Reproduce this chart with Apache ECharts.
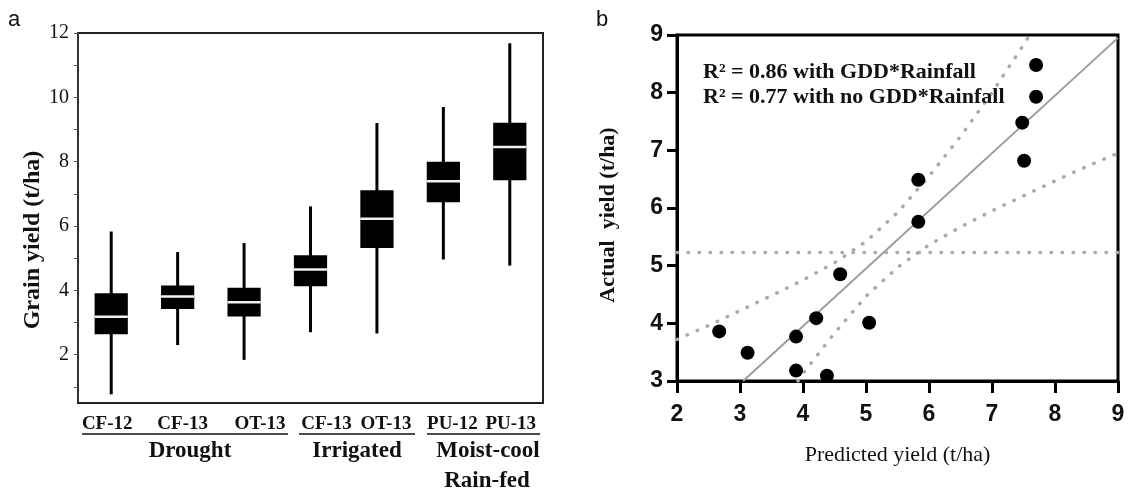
<!DOCTYPE html>
<html><head><meta charset="utf-8">
<script src="https://cdn.jsdelivr.net/npm/echarts@6/dist/echarts.min.js"></script>
<style>html,body{margin:0;padding:0;background:#fff}#c{width:1132px;height:494px}</style>
</head><body><div id="c"></div>
<script>
// ---------- Panel a data ----------
const categories = ['CF-12', 'CF-13', 'OT-13', 'CF-13', 'OT-13', 'PU-12', 'PU-13'];
const groupLabels = ['Drought', 'Irrigated', 'Moist-cool', 'Rain-fed'];
const whiskerLow  = [0.77, 2.30, 1.84, 2.70, 2.66, 4.96, 4.77];
const q1          = [2.64, 3.42, 3.19, 4.13, 5.32, 6.74, 7.42];
const median      = [3.18, 3.81, 3.63, 4.65, 6.23, 7.39, 8.46];
const q3          = [3.91, 4.15, 4.08, 5.09, 7.11, 8.00, 9.21];
const whiskerHigh = [5.83, 5.19, 5.47, 6.61, 9.20, 9.70, 11.68];
const leftTickValues  = [1, 2, 3, 4, 5, 6, 7, 8, 9, 10, 11, 12];
const leftLabelValues = [2, 4, 6, 8, 10, 12];

// ---------- Panel b data ----------
const predicted = [7.70, 7.70, 7.48, 7.51, 5.83, 5.83, 4.59, 4.21, 5.05, 2.67, 3.12, 3.89, 3.89, 4.38];
const actual    = [8.48, 7.93, 7.48, 6.82, 6.49, 5.76, 4.85, 4.09, 4.01, 3.86, 3.49, 3.77, 3.18, 3.09];
const fitX = [3.05, 9.0];
const fitY = [3.0, 8.95];
const upperX = [2.0, 2.5, 3.0, 3.5, 4.0, 4.5, 5.0, 5.5, 6.0, 6.5, 7.0, 7.5, 7.6];
const upperY = [3.72, 3.96, 4.22, 4.48, 4.75, 5.05, 5.42, 5.92, 6.55, 7.24, 8.0, 8.83, 9.0];
const lowerX = [3.92, 4.0, 4.5, 5.0, 5.5, 6.0, 6.5, 7.0, 7.5, 8.0, 8.5, 9.0];
const lowerY = [3.0, 3.13, 3.83, 4.47, 4.97, 5.36, 5.67, 5.95, 6.21, 6.47, 6.72, 6.95];
const meanX = [2, 9];
const meanY = [5.23, 5.23];
const annotations = ['R² = 0.86 with GDD*Rainfall', 'R² = 0.77 with no GDD*Rainfall'];

const SERIF = "'Liberation Serif', 'Times New Roman', serif";
const SANS = "'Liberation Sans', Arial, sans-serif";
const zip = (a, b) => a.map((v, i) => [v, b[i]]);

// label shifts (px) for category labels of panel a
const labelShift = [-4, 5, 16, 16, 9, 9, 1];
const rich = {};
labelShift.forEach((s, i) => {
  rich['s' + i] = {
    fontFamily: SERIF, fontSize: 19, fontWeight: 'bold', color: '#111',
    padding: s >= 0 ? [0, 0, 0, 2 * s] : [0, -2 * s, 0, 0]
  };
});

const chart = echarts.init(document.getElementById('c'), null, {renderer: 'canvas'});

const boxData = categories.map((c, i) => [i, whiskerLow[i], q1[i], median[i], q3[i], whiskerHigh[i]]);
const dotted = {color: '#aaa', width: 3.5, type: [0.5, 10.5], cap: 'round'};

const option = {
  animation: false,
  backgroundColor: '#fff',
  grid: [
    {left: 78, top: 33, width: 465, height: 370, show: true, borderColor: '#222', borderWidth: 2},
    {left: 677, top: 35, width: 441, height: 346, show: true, borderColor: '#000', borderWidth: 3}
  ],
  xAxis: [
    {
      gridIndex: 0, type: 'category', data: categories, boundaryGap: true,
      axisLine: {show: true, lineStyle: {color: '#222', width: 2}},
      axisTick: {show: false},
      axisLabel: {
        margin: 12, interval: 0,
        formatter: (v, i) => '{s' + i + '|' + v + '}',
        rich: rich
      },
      splitLine: {show: false}
    },
    {
      gridIndex: 1, type: 'value', min: 2, max: 9, interval: 1,
      axisLine: {show: true, onZero: false, lineStyle: {color: '#000', width: 3}},
      axisTick: {show: true, length: 12, lineStyle: {color: '#000', width: 3}},
      axisLabel: {margin: 22, fontFamily: SANS, fontSize: 23, fontWeight: 'bold', color: '#111'},
      splitLine: {show: false},
      name: 'Predicted yield (t/ha)', nameLocation: 'middle', nameGap: 63,
      nameTextStyle: {fontFamily: SERIF, fontSize: 22, color: '#111'}
    }
  ],
  yAxis: [
    {
      gridIndex: 0, type: 'value', min: 0.5, max: 12,
      axisLine: {show: true, lineStyle: {color: '#333', width: 2}},
      axisTick: {show: true, length: 4, customValues: leftTickValues, lineStyle: {color: '#555', width: 1}},
      axisLabel: {margin: 9, customValues: leftLabelValues, fontFamily: SERIF, fontSize: 20, color: '#111'},
      splitLine: {show: false},
      name: 'Grain yield (t/ha)', nameLocation: 'middle', nameGap: 32,
      nameTextStyle: {fontFamily: SERIF, fontSize: 24, fontWeight: 'bold', color: '#111', padding: [0, 44, 0, 0]}
    },
    {
      gridIndex: 1, type: 'value', min: 3, max: 9, interval: 1,
      axisLine: {show: true, onZero: false, lineStyle: {color: '#000', width: 3}},
      axisTick: {show: true, length: 10, lineStyle: {color: '#000', width: 3}},
      axisLabel: {margin: 14, fontFamily: SANS, fontSize: 23, fontWeight: 'bold', color: '#111'},
      splitLine: {show: false},
      name: 'Actual  yield (t/ha)', nameLocation: 'middle', nameGap: 58,
      nameTextStyle: {fontFamily: SERIF, fontSize: 22, fontWeight: 'bold', color: '#111', padding: [0, 14, 0, 0]}
    }
  ],
  series: [
    {
      type: 'custom', xAxisIndex: 0, yAxisIndex: 0, data: boxData,
      encode: {x: 0, y: [1, 2, 3, 4, 5]},
      renderItem: function (params, api) {
        const i = api.value(0);
        const x = api.coord([i, api.value(3)])[0];
        const yLo = api.coord([i, api.value(1)])[1];
        const yQ1 = api.coord([i, api.value(2)])[1];
        const yMed = api.coord([i, api.value(3)])[1];
        const yQ3 = api.coord([i, api.value(4)])[1];
        const yHi = api.coord([i, api.value(5)])[1];
        const bw = api.size([1, 0])[0] * 0.5;
        return {
          type: 'group', children: [
            {type: 'line', shape: {x1: x, y1: yLo, x2: x, y2: yHi}, style: {stroke: '#000', lineWidth: 3}},
            {type: 'rect', shape: {x: x - bw / 2, y: yQ3, width: bw, height: yQ1 - yQ3}, style: {fill: '#000'}},
            {type: 'line', shape: {x1: x - bw / 2, y1: yMed, x2: x + bw / 2, y2: yMed}, style: {stroke: '#f2f2f2', lineWidth: 2.5}}
          ]
        };
      }
    },
    {type: 'line', xAxisIndex: 1, yAxisIndex: 1, data: zip(meanX, meanY), symbol: 'none', lineStyle: dotted, z: 2},
    {type: 'line', xAxisIndex: 1, yAxisIndex: 1, data: zip(upperX, upperY), symbol: 'none', lineStyle: dotted, z: 2},
    {type: 'line', xAxisIndex: 1, yAxisIndex: 1, data: zip(lowerX, lowerY), symbol: 'none', lineStyle: dotted, z: 2},
    {
      type: 'line', xAxisIndex: 1, yAxisIndex: 1, data: zip(fitX, fitY), symbol: 'none',
      lineStyle: {color: '#9c9c9c', width: 2}, z: 3
    },
    {
      type: 'scatter', xAxisIndex: 1, yAxisIndex: 1, data: zip(predicted, actual),
      symbol: 'circle', symbolSize: 14, itemStyle: {color: '#000', opacity: 1}, z: 4
    }
  ],
  graphic: [
    {type: 'text', x: 8, y: 20, style: {text: 'a', font: '22px ' + SANS, fill: '#111', verticalAlign: 'middle'}},
    {type: 'text', x: 596, y: 20, style: {text: 'b', font: '22px ' + SANS, fill: '#111', verticalAlign: 'middle'}},
    {type: 'line', shape: {x1: 82, y1: 434, x2: 288, y2: 434}, style: {stroke: '#111', lineWidth: 1.5}},
    {type: 'line', shape: {x1: 299, y1: 434, x2: 415, y2: 434}, style: {stroke: '#111', lineWidth: 1.5}},
    {type: 'line', shape: {x1: 427, y1: 434, x2: 540, y2: 434}, style: {stroke: '#111', lineWidth: 1.5}},
    {type: 'text', x: 190, y: 451, style: {text: groupLabels[0], font: 'bold 23px ' + SERIF, fill: '#111', align: 'center', verticalAlign: 'middle'}},
    {type: 'text', x: 357, y: 451, style: {text: groupLabels[1], font: 'bold 23px ' + SERIF, fill: '#111', align: 'center', verticalAlign: 'middle'}},
    {type: 'text', x: 488, y: 451, style: {text: groupLabels[2], font: 'bold 23px ' + SERIF, fill: '#111', align: 'center', verticalAlign: 'middle'}},
    {type: 'text', x: 487, y: 481, style: {text: groupLabels[3], font: 'bold 23px ' + SERIF, fill: '#111', align: 'center', verticalAlign: 'middle'}},
    {type: 'text', x: 703, y: 72, style: {text: annotations[0], font: 'bold 22px ' + SERIF, fill: '#111', verticalAlign: 'middle'}, z: 10},
    {type: 'text', x: 703, y: 97, style: {text: annotations[1], font: 'bold 22px ' + SERIF, fill: '#111', verticalAlign: 'middle'}, z: 10}
  ]
};
chart.setOption(option);
</script>
</body></html>
